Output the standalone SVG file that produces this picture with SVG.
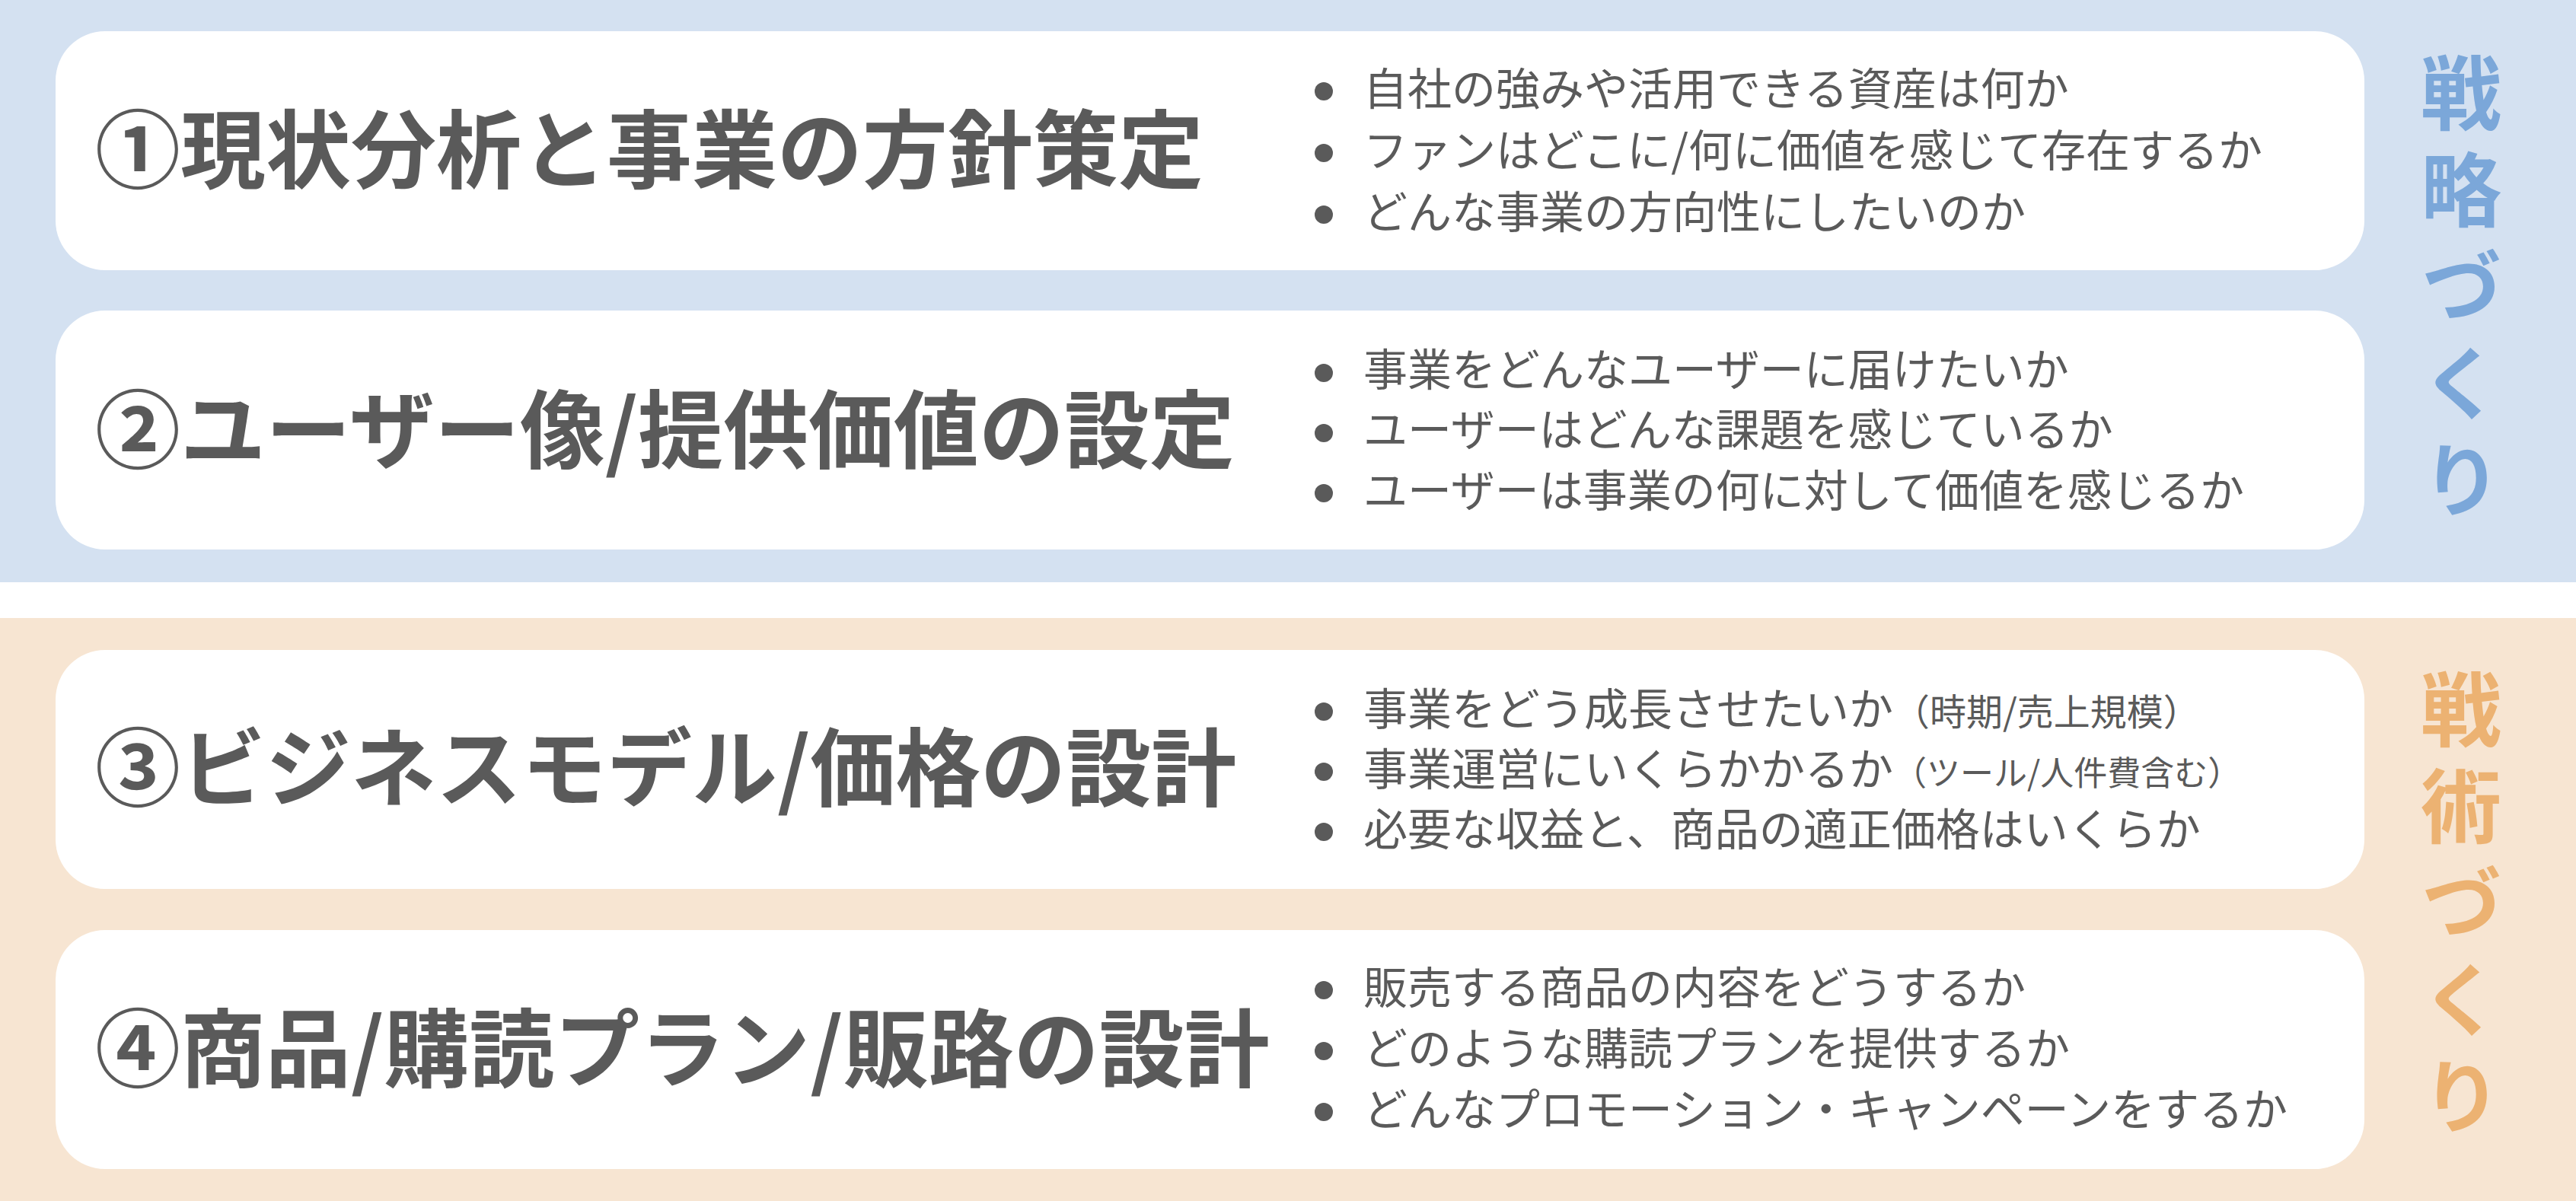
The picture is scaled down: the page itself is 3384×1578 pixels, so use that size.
<svg xmlns="http://www.w3.org/2000/svg" width="3384" height="1578" viewBox="0 0 3384 1578">
  <style>
    .card { fill: #ffffff; }
    .title { font-family: "Noto Sans CJK JP", "Noto Sans", sans-serif; font-weight: 700; font-size: 112px; fill: #5a5a5a; }
    .item { font-family: "Noto Sans CJK JP", "Noto Sans", sans-serif; font-weight: 400; font-size: 58px; fill: #5a5a5a; }
    .dot { fill: #5a5a5a; }
    .vlabel { font-family: "Noto Sans CJK JP", "Noto Sans", sans-serif; font-weight: 700; font-size: 106px; writing-mode: vertical-rl; letter-spacing: 21px; }
    .blue { fill: #7ba7d9; }
    .orange { fill: #ecb272; }
  </style>
  <rect width="3384" height="1578" fill="#ffffff"/>
  <g id="band-strategy">
    <rect x="0" y="0" width="3384" height="765" fill="#d4e1f1"/>
  </g>
  <g id="band-tactics">
    <rect x="0" y="812" width="3384" height="766" fill="#f7e5d2"/>
  </g>

  <g id="card1">
    <rect class="card" x="73" y="41" width="3033" height="314" rx="65" ry="65"/>
    <text class="title" x="125" y="239">①現状分析と事業の方針策定</text>
    <circle class="dot" cx="1739" cy="120" r="12"/>
    <circle class="dot" cx="1739" cy="201" r="12"/>
    <circle class="dot" cx="1739" cy="282" r="12"/>
    <text class="item" x="1791" y="138">自社の強みや活用できる資産は何か</text>
    <text class="item" x="1791" y="219">ファンはどこに/何に価値を感じて存在するか</text>
    <text class="item" x="1791" y="300">どんな事業の方向性にしたいのか</text>
  </g>

  <g id="card2">
    <rect class="card" x="73" y="408" width="3033" height="314" rx="65" ry="65"/>
    <text class="title" x="125" y="607">②ユーザー像/提供価値の設定</text>
    <circle class="dot" cx="1739" cy="490" r="12"/>
    <circle class="dot" cx="1739" cy="569" r="12"/>
    <circle class="dot" cx="1739" cy="648" r="12"/>
    <text class="item" x="1791" y="507">事業をどんなユーザーに届けたいか</text>
    <text class="item" x="1791" y="586">ユーザーはどんな課題を感じているか</text>
    <text class="item" x="1791" y="666">ユーザーは事業の何に対して価値を感じるか</text>
  </g>

  <g id="card3">
    <rect class="card" x="73" y="854" width="3033" height="314" rx="65" ry="65"/>
    <text class="title" x="125" y="1051">③ビジネスモデル/価格の設計</text>
    <circle class="dot" cx="1739" cy="935" r="12"/>
    <circle class="dot" cx="1739" cy="1014" r="12"/>
    <circle class="dot" cx="1739" cy="1093" r="12"/>
    <text class="item" x="1791" y="953">事業をどう成長させたいか<tspan font-size="48">（時期/売上規模）</tspan></text>
    <text class="item" x="1791" y="1032">事業運営にいくらかかるか<tspan font-size="44">（ツール/人件費含む）</tspan></text>
    <text class="item" x="1791" y="1111">必要な収益と、商品の適正価格はいくらか</text>
  </g>

  <g id="card4">
    <rect class="card" x="73" y="1222" width="3033" height="314" rx="65" ry="65"/>
    <text class="title" x="125" y="1420">④商品/購読プラン/販路の設計</text>
    <circle class="dot" cx="1739" cy="1301" r="12"/>
    <circle class="dot" cx="1739" cy="1381" r="12"/>
    <circle class="dot" cx="1739" cy="1461" r="12"/>
    <text class="item" x="1791" y="1319">販売する商品の内容をどうするか</text>
    <text class="item" x="1791" y="1399">どのような購読プランを提供するか</text>
    <text class="item" x="1791" y="1479">どんなプロモーション・キャンペーンをするか</text>
  </g>

  <g id="label-strategy">
    <text class="vlabel blue" x="3233" y="69">戦略づくり</text>
  </g>

  <g id="label-tactics">
    <text class="vlabel orange" x="3233" y="879">戦術づくり</text>
  </g>

  <g id="connectors"/>
</svg>
